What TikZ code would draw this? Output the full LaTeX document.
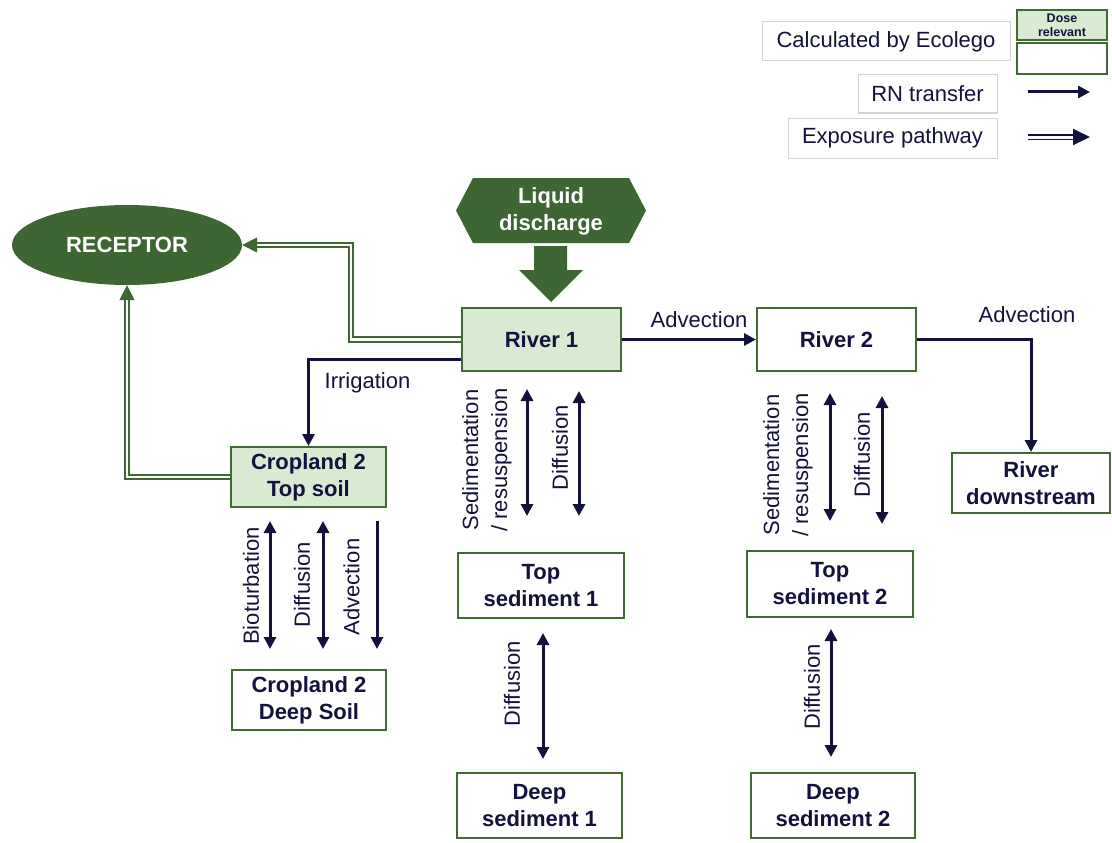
\documentclass[tikz,border=0pt]{standalone}
\usepackage{fontspec}
\setmainfont{Liberation Sans}
\usetikzlibrary{arrows.meta,shapes.geometric,calc}
\definecolor{dgreen}{RGB}{61,102,51}
\definecolor{bgreen}{RGB}{66,106,52}
\definecolor{lgreen}{RGB}{217,234,211}
\definecolor{navy}{RGB}{18,18,60}
\definecolor{lgray}{RGB}{212,212,212}
\tikzset{
  cbox/.style={draw=bgreen, line width=2pt, fill=white, text=navy,
    font=\fontsize{22}{27}\selectfont\bfseries, align=center, inner sep=0pt},
  dbox/.style={cbox, fill=lgreen},
  lbox/.style={draw=lgray, line width=1pt, fill=white, text=navy,
    font=\fontsize{22}{27}\selectfont, inner sep=0pt},
  lab/.style={text=navy, font=\fontsize{22}{27}\selectfont, inner sep=0pt},
  vlab/.style={lab, rotate=90, align=center},
  rn/.style={draw=navy, line width=3pt, -{Triangle[length=12pt,width=12pt]}},
  bi/.style={draw=navy, line width=3pt,
    {Triangle[length=12pt,width=12pt]}-{Triangle[length=12pt,width=12pt]}},
  expo/.style={draw=dgreen, line width=1.7pt, double=white, double distance=2.8pt,
    -{Triangle[length=15pt,width=15pt]}},
}
\begin{document}
\begin{tikzpicture}[x=1pt,y=-1pt]
\useasboundingbox (0,0) rectangle (1112,843);

% ---------- legend ----------
\node[lbox, minimum width=248, minimum height=39] (lcalc) at (886,41.5) {Calculated by Ecolego};
\node[dbox, minimum width=90, minimum height=30, font=\fontsize{12.5}{14}\selectfont\bfseries] (ldose) at (1062,25) {Dose\\relevant};
\node[cbox, minimum width=90, minimum height=31] (lcomp) at (1062,58.5) {};
\node[lbox, minimum width=139, minimum height=38] (lrn) at (927.5,94) {RN transfer};
\node[lbox, minimum width=209, minimum height=40] (lexp) at (892.5,138) {Exposure pathway};
\coordinate (rnA) at (1028,92);
\coordinate (rnB) at (1090,92);
\draw[rn] (rnA) -- (rnB);
\coordinate (exA) at (1028,137);
\coordinate (exB) at (1090,137);
\draw[draw=navy, line width=1.8pt, double=white, double distance=3pt,
  -{Triangle[length=17pt,width=16pt]}] (exA) -- (exB);

% ---------- liquid discharge ----------
\fill[dgreen] (456,210.5) -- (473,178) -- (629,178) -- (646,210.5) -- (629,243) -- (473,243) -- cycle;
\node[text=white, font=\fontsize{22}{27}\selectfont\bfseries, align=center, inner sep=0pt] (ld) at (551,211) {Liquid\\discharge};
\fill[dgreen] (534,246) -- (567,246) -- (567,270) -- (583,270) -- (551,302) -- (519,270) -- (534,270) -- cycle;

% ---------- compartments ----------
\node[ellipse, fill=dgreen, text=white, font=\fontsize{22}{27}\selectfont\bfseries,
  minimum width=230, minimum height=80, inner sep=0pt] (rec) at (127,245) {RECEPTOR};
\node[dbox, minimum width=159, minimum height=63] (r1) at (541.5,339.5) {River 1};
\node[cbox, minimum width=159, minimum height=63] (r2) at (836.5,339.5) {River 2};
\node[cbox, minimum width=158, minimum height=60] (rds) at (1031,483) {River\\downstream};
\node[dbox, minimum width=155, minimum height=60] (ct) at (308.5,477) {Cropland 2\\Top soil};
\node[cbox, minimum width=154, minimum height=60] (cd) at (309,700) {Cropland 2\\Deep Soil};
\node[cbox, minimum width=166, minimum height=65] (ts1) at (541,585.5) {Top\\sediment 1};
\node[cbox, minimum width=165, minimum height=65] (ds1) at (539.5,805.5) {Deep\\sediment 1};
\node[cbox, minimum width=166, minimum height=66] (ts2) at (830,584) {Top\\sediment 2};
\node[cbox, minimum width=164, minimum height=65] (ds2) at (833,805.5) {Deep\\sediment 2};

% ---------- RN transfer ----------
\draw[rn] (r1.east) -- (r2.west);
\node[lab, anchor=base] (adv1) at (699,327) {Advection};
\draw[rn] (r2.east) -| (rds.north);
\node[lab, anchor=base] (adv2) at (1027,322) {Advection};
\draw[rn, line cap=butt] ($(r1.west)+(0,20)$) -| (ct.north);
\node[lab, anchor=base] (irr) at (367.5,388) {Irrigation};

% river 1 -> top sediment 1
\draw[bi, shorten <=17pt, shorten >=36pt] (r1.south -| 527,0) -- (ts1.north -| 527,0);
\draw[bi, shorten <=19pt, shorten >=36pt] (r1.south -| 579,0) -- (ts1.north -| 579,0);
\node[vlab, align=center, font=\fontsize{22}{29}\selectfont] (sr1) at (487,460) {Sedimentation\\/ resuspension};
\node[vlab] (df1) at (560,448) {Diffusion};
% top -> deep sediment 1
\draw[bi, shorten <=14pt, shorten >=13pt] (ts1.south -| 543,0) -- (ds1.north -| 543,0);
\node[vlab] (df2) at (512,684) {Diffusion};

% river 2 -> top sediment 2
\draw[bi, shorten <=21pt, shorten >=29pt] (r2.south -| 830,0) -- (ts2.north -| 830,0);
\draw[bi, shorten <=24pt, shorten >=26pt] (r2.south -| 882,0) -- (ts2.north -| 882,0);
\node[vlab, align=center, font=\fontsize{22}{29}\selectfont] (sr2) at (788,465) {Sedimentation\\/ resuspension};
\node[vlab] (df3) at (862,455) {Diffusion};
% top -> deep sediment 2
\draw[bi, shorten <=11pt, shorten >=15pt] (ts2.south -| 831,0) -- (ds2.north -| 831,0);
\node[vlab] (df4) at (812,687) {Diffusion};

% cropland top -> deep
\draw[bi, shorten <=13pt, shorten >=20pt] (ct.south -| 270,0) -- (cd.north -| 270,0);
\draw[bi, shorten <=13pt, shorten >=20pt] (ct.south -| 323,0) -- (cd.north -| 323,0);
\draw[rn, shorten <=13pt, shorten >=20pt] (ct.south -| 377,0) -- (cd.north -| 377,0);
\node[vlab] (bio) at (251,586) {Bioturbation};
\node[vlab] (df5) at (302,585) {Diffusion};
\node[vlab] (adv3) at (351.5,587) {Advection};

% ---------- exposure pathways ----------
\draw[expo] (r1.west) -- ++(-110,0) |- (rec.east);
\draw[expo] (ct.west) -| (rec.south);
\end{tikzpicture}
\end{document}
